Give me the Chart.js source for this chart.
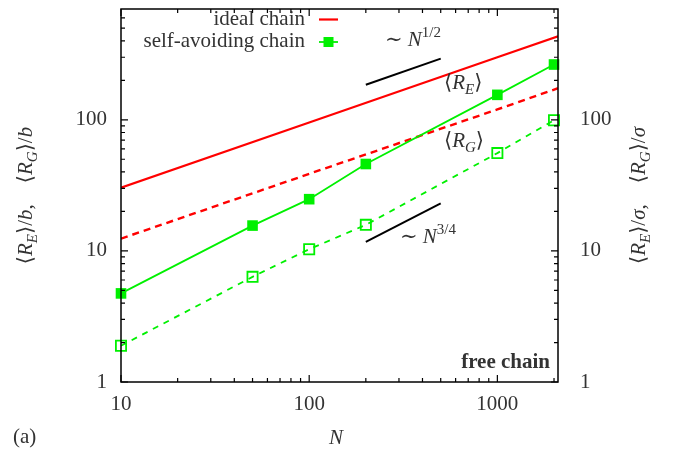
<!DOCTYPE html>
<html>
<head>
<meta charset="utf-8">
<script src="https://cdn.jsdelivr.net/npm/chart.js@4.4.1/dist/chart.umd.min.js"></script>
<style>
  html, body { margin: 0; padding: 0; background: #fff; }
</style>
</head>
<body>
<canvas id="chart" width="673" height="456"></canvas>
<script>
// data
const nIdeal = [10, 100, 1000, 2100];
const reIdeal = [30.4, 95.5, 300, 434];
const rgIdeal = [12.4, 38.7, 120, 174];

const nSaw = [10, 50, 100, 200, 1000, 2000];
const reSaw = [4.74, 15.6, 24.8, 46.0, 155, 264];
const rgSaw = [1.89, 6.34, 10.3, 15.8, 55.7, 99.3];

const nGuide = [200, 500];
const guideHalf = [185, 293];
const guideThreeQuarter = [11.7, 23.0];

const xTickLabels = [10, 100, 1000];
const yTickLabels = [1, 10, 100];

// style
const FAM = '"Liberation Serif", "DejaVu Serif", serif';
const TXT = '#333';
const RED = '#ff0000';
const GREEN = '#00f000';
const FS = 21;

function pts(xs, ys) {
    return xs.map((x, i) => ({ x: x, y: ys[i] }));
}

function isLabel(list, v) {
    return list.some(t => Math.abs(t - v) < 1e-6);
}

// rich text: parts = [[text, style], ...]
function partFont(style, size) {
    if (style === 'i') return 'italic ' + size + 'px ' + FAM;
    if (style === 'b') return 'bold ' + size + 'px ' + FAM;
    if (style === 'sub') return 'italic ' + Math.round(size * 0.7) + 'px ' + FAM;
    if (style === 'sup') return Math.round(size * 0.7) + 'px ' + FAM;
    return size + 'px ' + FAM;
}
function partShift(style, size) {
    if (style === 'sub') return size * 0.22;
    if (style === 'sup') return -size * 0.42;
    return 0;
}
function richWidth(ctx, parts, size) {
    let w = 0;
    parts.forEach(p => { ctx.font = partFont(p[1], size); w += ctx.measureText(p[0]).width; });
    return w;
}
function drawRich(ctx, parts, x, y, size, align) {
    const w = richWidth(ctx, parts, size);
    let cx = x;
    if (align === 'center') cx = x - w / 2;
    if (align === 'right') cx = x - w;
    ctx.textAlign = 'left';
    ctx.textBaseline = 'alphabetic';
    parts.forEach(p => {
        ctx.font = partFont(p[1], size);
        ctx.fillText(p[0], cx, y + partShift(p[1], size));
        cx += ctx.measureText(p[0]).width;
    });
}

const decor = {
    id: 'decor',
    afterDraw(chart) {
        const ctx = chart.ctx;
        const ca = chart.chartArea;
        const sx = chart.scales.x;
        const sy = chart.scales.y;
        ctx.save();

        // frame
        ctx.strokeStyle = '#000';
        ctx.lineWidth = 1.5;
        ctx.strokeRect(ca.left, ca.top, ca.right - ca.left, ca.bottom - ca.top);

        // inward ticks on all four sides
        ctx.lineWidth = 1.2;
        ctx.beginPath();
        for (let d = 1; d <= 1000; d *= 10) {
            for (let m = 1; m <= 9; m++) {
                const v = d * m;
                const len = m === 1 ? 7 : 4;
                if (v >= sx.min && v <= sx.max) {
                    const px = sx.getPixelForValue(v);
                    ctx.moveTo(px, ca.bottom); ctx.lineTo(px, ca.bottom - len);
                    ctx.moveTo(px, ca.top); ctx.lineTo(px, ca.top + len);
                }
                if (v >= sy.min && v < sy.max) {
                    const py = sy.getPixelForValue(v);
                    ctx.moveTo(ca.left, py); ctx.lineTo(ca.left + len, py);
                    ctx.moveTo(ca.right, py); ctx.lineTo(ca.right - len, py);
                }
            }
        }
        ctx.stroke();

        // legend
        ctx.fillStyle = TXT;
        drawRich(ctx, [['ideal chain', 'r']], 305, 25, FS, 'right');
        drawRich(ctx, [['self-avoiding chain', 'r']], 305, 47, FS, 'right');
        ctx.strokeStyle = RED;
        ctx.lineWidth = 2.2;
        ctx.beginPath(); ctx.moveTo(319, 19.5); ctx.lineTo(338, 19.5); ctx.stroke();
        ctx.strokeStyle = GREEN;
        ctx.lineWidth = 1.8;
        ctx.beginPath(); ctx.moveTo(319, 42); ctx.lineTo(338, 42); ctx.stroke();
        ctx.fillStyle = GREEN;
        ctx.fillRect(323.5, 37, 10, 10);

        // annotations
        ctx.fillStyle = TXT;
        drawRich(ctx, [['∼ ', 'r'], ['N', 'i'], ['1/2', 'sup']], 385, 46, FS, 'left');
        drawRich(ctx, [['⟨', 'r'], ['R', 'i'], ['E', 'sub'], ['⟩', 'r']], 444, 89, FS, 'left');
        drawRich(ctx, [['⟨', 'r'], ['R', 'i'], ['G', 'sub'], ['⟩', 'r']], 444, 147, FS, 'left');
        drawRich(ctx, [['∼ ', 'r'], ['N', 'i'], ['3/4', 'sup']], 400, 243, FS, 'left');
        drawRich(ctx, [['free chain', 'b']], 550, 368, FS, 'right');

        // axis titles
        drawRich(ctx, [['N', 'i']], 336, 444, FS, 'center');
        drawRich(ctx, [['(a)', 'r']], 13, 443, FS, 'left');

        const midY = (ca.top + ca.bottom) / 2;
        const leftTitle = [['⟨', 'r'], ['R', 'i'], ['E', 'sub'], ['⟩/', 'r'], ['b', 'i'], [',    ', 'r'],
                           ['⟨', 'r'], ['R', 'i'], ['G', 'sub'], ['⟩/', 'r'], ['b', 'i']];
        const rightTitle = [['⟨', 'r'], ['R', 'i'], ['E', 'sub'], ['⟩/', 'r'], ['σ', 'i'], [',    ', 'r'],
                            ['⟨', 'r'], ['R', 'i'], ['G', 'sub'], ['⟩/', 'r'], ['σ', 'i']];
        ctx.save();
        ctx.translate(32, midY);
        ctx.rotate(-Math.PI / 2);
        drawRich(ctx, leftTitle, 0, 0, FS, 'center');
        ctx.restore();
        ctx.save();
        ctx.translate(645, midY);
        ctx.rotate(-Math.PI / 2);
        drawRich(ctx, rightTitle, 0, 0, FS, 'center');
        ctx.restore();

        ctx.restore();
    }
};

const tickFont = { family: FAM, size: FS };

function noPad(s) {
    s.paddingTop = 0; s.paddingBottom = 0; s.paddingLeft = 0; s.paddingRight = 0;
}

const ctx = document.getElementById('chart').getContext('2d');
const chart = new Chart(ctx, {
    type: 'scatter',
    data: {
        datasets: [
            { data: pts(nGuide, guideHalf), showLine: true, borderColor: '#000', borderWidth: 2, pointRadius: 0 },
            { data: pts(nGuide, guideThreeQuarter), showLine: true, borderColor: '#000', borderWidth: 2, pointRadius: 0 },
            { data: pts(nSaw, reSaw), showLine: true, borderColor: GREEN, borderWidth: 1.8,
              pointStyle: 'rect', pointRadius: 7.5, pointBackgroundColor: GREEN, pointBorderWidth: 0, clip: false },
            { data: pts(nSaw, rgSaw), showLine: true, borderColor: GREEN, borderWidth: 1.8, borderDash: [6, 6],
              pointStyle: 'rect', pointRadius: 7.2, pointBackgroundColor: 'rgba(0,0,0,0)',
              pointBorderColor: GREEN, pointBorderWidth: 1.8, clip: false },
            { data: pts(nIdeal, reIdeal), showLine: true, borderColor: RED, borderWidth: 2.2, pointRadius: 0 },
            { data: pts(nIdeal, rgIdeal), showLine: true, borderColor: RED, borderWidth: 2.4, borderDash: [7, 5], pointRadius: 0 }
        ]
    },
    options: {
        responsive: false,
        animation: false,
        events: [],
        layout: { padding: { top: 4, left: 0, right: 0, bottom: 0 } },
        plugins: { legend: { display: false }, tooltip: { enabled: false } },
        scales: {
            x: {
                type: 'logarithmic', min: 10, max: 2100,
                grid: { display: false, drawTicks: false }, border: { display: false },
                ticks: { autoSkip: false, maxRotation: 0, padding: 10, font: tickFont, color: TXT,
                         callback: v => isLabel(xTickLabels, v) ? String(v) : '' },
                afterFit: s => { s.height = 74; noPad(s); }
            },
            y: {
                type: 'logarithmic', position: 'left', min: 1, max: 700,
                grid: { display: false, drawTicks: false }, border: { display: false },
                ticks: { autoSkip: false, padding: 14, font: tickFont, color: TXT,
                         callback: v => isLabel(yTickLabels, v) ? String(v) : '' },
                afterFit: s => { s.width = 121; noPad(s); }
            },
            y2: {
                type: 'logarithmic', position: 'right', min: 1, max: 700,
                grid: { display: false, drawTicks: false }, border: { display: false },
                ticks: { autoSkip: false, padding: 22, font: tickFont, color: TXT,
                         callback: v => isLabel(yTickLabels, v) ? String(v) : '' },
                afterFit: s => { s.width = 115; noPad(s); }
            }
        }
    },
    plugins: [decor]
});
</script>
</body>
</html>
